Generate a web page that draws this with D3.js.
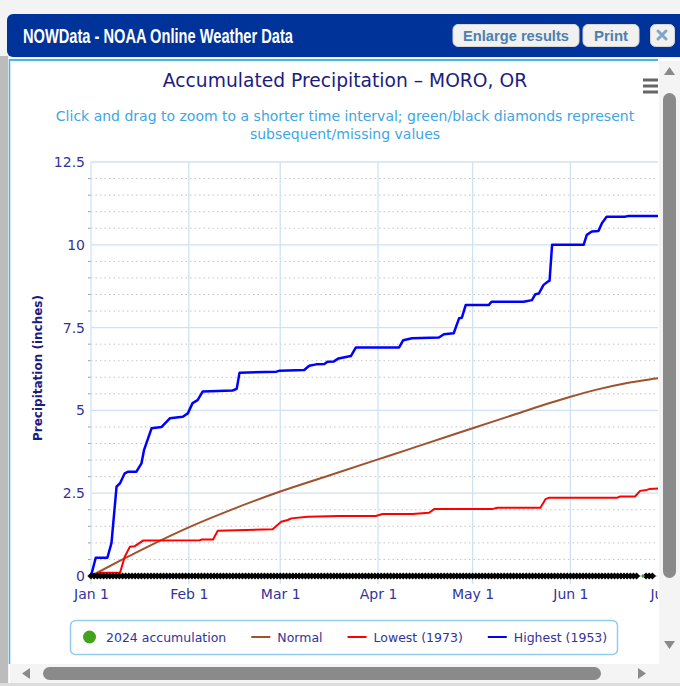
<!DOCTYPE html>
<html>
<head>
<meta charset="utf-8">
<script src="https://cdn.jsdelivr.net/npm/d3@7"></script>
<style>
  html, body { margin: 0; padding: 0; background: #f3f3f3; }
  svg { display: block; }
</style>
</head>
<body>
<div id="viz"></div>
<script>
// values, x = days after Jan 1 2024
const chartTitle = "Accumulated Precipitation \u2013 MORO, OR";
const subtitleLines = [
  "Click and drag to zoom to a shorter time interval; green/black diamonds represent",
  "subsequent/missing values"
];
const yTicks = [0, 2.5, 5, 7.5, 10, 12.5];
const yTickLabels = ["0", "2.5", "5", "7.5", "10", "12.5"];
const xTickLabels = ["Jan 1", "Feb 1", "Mar 1", "Apr 1", "May 1", "Jun 1", "Jul 1"];

const normalPts = [[0,0],[10,0.5],[20,0.98],[31,1.47],[45,2.02],[60,2.55],[75,3.02],[91,3.52],[100,3.8],
  [105,3.96],[121,4.46],[135,4.9],[152,5.41],[160,5.62],[170,5.83],[179,5.96],[182,6.0]];

const lowestPts = [[0,0],[2.8,0.1],[9.2,0.1],[10.7,0.58],[12.3,0.88],[13.9,0.9],[16.5,1.07],[34.5,1.08],
  [35,1.1],[38.7,1.1],[40.2,1.37],[57.6,1.41],[60.3,1.64],[62.4,1.69],[63.5,1.74],[68.7,1.79],[78.7,1.81],
  [90.3,1.81],[92.4,1.87],[101.9,1.87],[107.2,1.91],[108.8,2.02],[127.2,2.02],[128.8,2.06],[142.5,2.06],
  [144.1,2.32],[145.1,2.36],[166.7,2.36],[167.8,2.4],[172.5,2.4],[174.1,2.57],[176.2,2.6],[177.2,2.63],[182,2.65]];

const highestPts = [[0,0],[1.5,0.55],[5.2,0.55],[6.5,1.0],[8.1,2.7],[9.2,2.8],[10.7,3.1],[11.8,3.15],[14.4,3.15],
  [16,3.4],[16.8,3.8],[19.2,4.46],[22.4,4.5],[25,4.76],[29.1,4.81],[30.7,4.91],[32.2,5.22],[33.8,5.31],[35.4,5.57],
  [44.9,5.6],[46.2,5.65],[47.1,6.14],[58.8,6.17],[59.8,6.2],[67.6,6.22],[69.2,6.35],[71.4,6.39],[74,6.4],
  [75,6.47],[77,6.48],[78.5,6.57],[82.4,6.64],[84,6.9],[97.7,6.9],[99,7.12],[101.8,7.18],[110.3,7.2],
  [111.9,7.3],[115,7.33],[116.7,7.78],[117.6,7.8],[118.8,8.18],[126.1,8.18],[127,8.28],[137.2,8.28],
  [139.8,8.33],[140.9,8.51],[142,8.53],[143.5,8.79],[144.9,8.89],[145.4,8.92],[146.2,10.0],[156.2,10.0],
  [157.2,10.3],[158.8,10.4],[160.9,10.42],[162,10.65],[163.5,10.85],[169.4,10.85],[170.4,10.87],[182,10.87]];

// 2024: every day so far is missing (black), one subsequent value (green)
const missingRanges = [[0, 173], [176, 178]];
const subsequentDays = [175];

const legendItems = [
  { name: "2024 accumulation", color: "#44a31c", type: "dot" },
  { name: "Normal", color: "#a0522d", type: "line" },
  { name: "Lowest (1973)", color: "#ff0000", type: "line" },
  { name: "Highest (1953)", color: "#0000ff", type: "line" }
];

const W = 680, H = 686;
const base = new Date(2024, 0, 1);
const toDate = d => new Date(base.getTime() + d * 864e5);

const svg = d3.select("#viz").append("svg").attr("width", W).attr("height", H);

// ---- window frame ----
svg.append("rect").attr("x", 0).attr("y", 56).attr("width", 8).attr("height", H - 56).attr("fill", "#bcbcbc");
svg.append("rect").attr("x", 9).attr("y", 59).attr("width", W - 9).attr("height", H - 59)
   .attr("fill", "#ffffff");
svg.append("line").attr("x1", 9).attr("x2", 658).attr("y1", 60).attr("y2", 60)
   .attr("stroke", "#4ab4e8").attr("stroke-width", 2);
svg.append("line").attr("x1", 9.5).attr("x2", 9.5).attr("y1", 60).attr("y2", 664)
   .attr("stroke", "#4ab4e8").attr("stroke-width", 1.5);

// title bar
svg.append("rect").attr("x", 7).attr("y", 14).attr("width", 690).attr("height", 43).attr("rx", 6)
   .attr("fill", "#003399");
svg.append("text").attr("x", 23).attr("y", 43)
   .attr("textLength", 270).attr("lengthAdjust", "spacingAndGlyphs")
   .style("font-family", "Liberation Sans, Arial, sans-serif").style("font-weight", "bold")
   .style("font-size", "20px").attr("fill", "#ffffff")
   .text("NOWData - NOAA Online Weather Data");

const buttons = [
  { label: "Enlarge results", x: 453, w: 126, tl: 106 },
  { label: "Print", x: 583, w: 56, tl: 34 }
];
buttons.forEach(b => {
  svg.append("rect").attr("x", b.x).attr("y", 24.5).attr("width", b.w).attr("height", 22).attr("rx", 5)
     .attr("fill", "#f1f1f1").attr("stroke", "#d6d6d6");
  svg.append("text").attr("x", b.x + b.w / 2).attr("y", 41).attr("text-anchor", "middle")
     .attr("textLength", b.tl).attr("lengthAdjust", "spacingAndGlyphs")
     .style("font-family", "Liberation Sans, Arial, sans-serif").style("font-weight", "bold")
     .style("font-size", "15px").attr("fill", "#4f80ad").text(b.label);
});
svg.append("rect").attr("x", 650.5).attr("y", 24.5).attr("width", 24).attr("height", 22).attr("rx", 5)
   .attr("fill", "#f1f1f1").attr("stroke", "#d6d6d6");
svg.append("path").attr("d", "M658,31 L666,39 M666,31 L658,39")
   .attr("stroke", "#7fa6c9").attr("stroke-width", 3).attr("stroke-linecap", "round");

// scrollbars
svg.append("rect").attr("x", 659).attr("y", 61).attr("width", 21).attr("height", 603).attr("fill", "#f4f4f4");
svg.append("rect").attr("x", 663).attr("y", 93).attr("width", 13).attr("height", 485).attr("rx", 6.5).attr("fill", "#8a8a8a");
svg.append("path").attr("d", "M669.5,67 L675,75 L664,75 Z").attr("fill", "#8a8a8a");
svg.append("path").attr("d", "M669.5,649 L675,641 L664,641 Z").attr("fill", "#8a8a8a");
svg.append("rect").attr("x", 10).attr("y", 664).attr("width", 670).attr("height", 19).attr("fill", "#f4f4f4");
svg.append("rect").attr("x", 43).attr("y", 667).attr("width", 558).attr("height", 13).attr("rx", 6.5).attr("fill", "#8a8a8a");
svg.append("path").attr("d", "M22,673.5 L30,668 L30,679 Z").attr("fill", "#8a8a8a");
svg.append("path").attr("d", "M646,673.5 L638,668 L638,679 Z").attr("fill", "#8a8a8a");
svg.append("rect").attr("x", 0).attr("y", 683).attr("width", W).attr("height", 3).attr("fill", "#dcdcdc");

// ---- chart ----
svg.append("clipPath").attr("id", "panel")
   .append("rect").attr("x", 10).attr("y", 61).attr("width", 648).attr("height", 602);
const g = svg.append("g").attr("clip-path", "url(#panel)")
   .style("font-family", "DejaVu Sans, Verdana, sans-serif");

const x = d3.scaleTime().domain([base, new Date(2024, 6, 1)]).range([91, 665]);
const y = d3.scaleLinear().domain([0, 12.5]).range([576, 162]);
const monthDates = d3.timeMonth.range(base, new Date(2024, 6, 2));

g.append("text").attr("x", 345).attr("y", 87).attr("text-anchor", "middle")
 .style("font-size", "18.7px").attr("fill", "#1c1c80").text(chartTitle);
g.selectAll(".sub").data(subtitleLines).enter().append("text")
 .attr("x", 345).attr("y", (d, i) => 121 + i * 18).attr("text-anchor", "middle")
 .style("font-size", "14px").attr("fill", "#40a6e2").text(d => d);

// hamburger
[80, 86, 92].forEach(yy => {
  g.append("rect").attr("x", 643).attr("y", yy - 1.5).attr("width", 15).attr("height", 3).attr("fill", "#666");
});

// minor grid (dotted) every 0.5
const minorVals = d3.range(0.5, 12.5, 0.5).filter(v => v % 2.5 !== 0);
g.selectAll(".minor").data(minorVals).enter().append("line")
 .attr("x1", 91).attr("x2", 670).attr("y1", d => y(d)).attr("y2", d => y(d))
 .attr("stroke", "#c4c4c4").attr("stroke-dasharray", "1.5,3");
g.selectAll(".mtick").data(minorVals).enter().append("line")
 .attr("x1", 88).attr("x2", 91).attr("y1", d => y(d)).attr("y2", d => y(d))
 .attr("stroke", "#999");

// major grid
g.selectAll(".hgrid").data(yTicks).enter().append("line")
 .attr("x1", 91).attr("x2", 670).attr("y1", d => y(d)).attr("y2", d => y(d))
 .attr("stroke", "#cfe2f3").attr("stroke-width", 1.3);
g.selectAll(".vgrid").data(monthDates).enter().append("line")
 .attr("x1", d => x(d)).attr("x2", d => x(d)).attr("y1", 162).attr("y2", 584)
 .attr("stroke", "#cfe2f3").attr("stroke-width", 1.3);

// axes
const yAxis = g.append("g").attr("transform", "translate(91,0)")
  .call(d3.axisLeft(y).tickValues(yTicks).tickSize(0).tickPadding(6).tickFormat((d, i) => yTickLabels[i]));
yAxis.select(".domain").remove();
yAxis.selectAll("text").style("font-size", "14px").style("font-family", "DejaVu Sans, Verdana, sans-serif")
  .attr("fill", "#333399");

const xAxis = g.append("g").attr("transform", "translate(0,576)")
  .call(d3.axisBottom(x).tickValues(monthDates).tickSize(0).tickPadding(13).tickFormat((d, i) => xTickLabels[i]));
xAxis.select(".domain").remove();
xAxis.selectAll("text").style("font-size", "14px").style("font-family", "DejaVu Sans, Verdana, sans-serif")
  .attr("fill", "#333399");

g.append("text").attr("transform", "translate(42,368) rotate(-90)").attr("text-anchor", "middle")
 .style("font-size", "12px").style("font-weight", "bold").attr("fill", "#1c1c80")
 .text("Precipitation (inches)");

// series
const line = d3.line().x(d => x(toDate(d[0]))).y(d => y(d[1]));
const plot = g.append("g");
plot.append("path").datum(normalPts).attr("d", line.curve(d3.curveMonotoneX))
    .attr("fill", "none").attr("stroke", "#a0522d").attr("stroke-width", 2);
line.curve(d3.curveLinear);
plot.append("path").datum(lowestPts).attr("d", line)
    .attr("fill", "none").attr("stroke", "#ff0000").attr("stroke-width", 2).attr("stroke-linejoin", "round");
plot.append("path").datum(highestPts).attr("d", line)
    .attr("fill", "none").attr("stroke", "#0000ff").attr("stroke-width", 2.5).attr("stroke-linejoin", "round");

// 2024 diamonds
const diamond = r => `M0,${-r}L${r},0L0,${r}L${-r},0Z`;
const missingDays = missingRanges.flatMap(([a, b]) => d3.range(a, b + 1));
plot.selectAll(".miss").data(missingDays).enter().append("path")
    .attr("transform", d => `translate(${x(toDate(d))},${y(0)})`)
    .attr("d", diamond(3.6)).attr("fill", "#000");
plot.selectAll(".subs").data(subsequentDays).enter().append("path")
    .attr("transform", d => `translate(${x(toDate(d))},${y(0)})`)
    .attr("d", diamond(2)).attr("fill", "#44a31c");

// legend
const leg = g.append("g");
leg.append("rect").attr("x", 70.5).attr("y", 620.5).attr("width", 547).attr("height", 34)
   .attr("rx", 5).attr("fill", "#ffffff").attr("stroke", "#92ccee").attr("stroke-width", 1.5);
let lx = 80;
legendItems.forEach(it => {
  if (it.type === "dot") {
    leg.append("circle").attr("cx", lx + 9.5).attr("cy", 637).attr("r", 6.5).attr("fill", it.color);
  } else {
    leg.append("line").attr("x1", lx).attr("x2", lx + 19).attr("y1", 637).attr("y2", 637)
       .attr("stroke", it.color).attr("stroke-width", 2);
  }
  const t = leg.append("text").attr("x", lx + 26).attr("y", 642)
     .style("font-size", "12.5px").attr("fill", "#333399").text(it.name);
  lx += 26 + t.node().getComputedTextLength() + 25;
});
</script>
</body>
</html>
